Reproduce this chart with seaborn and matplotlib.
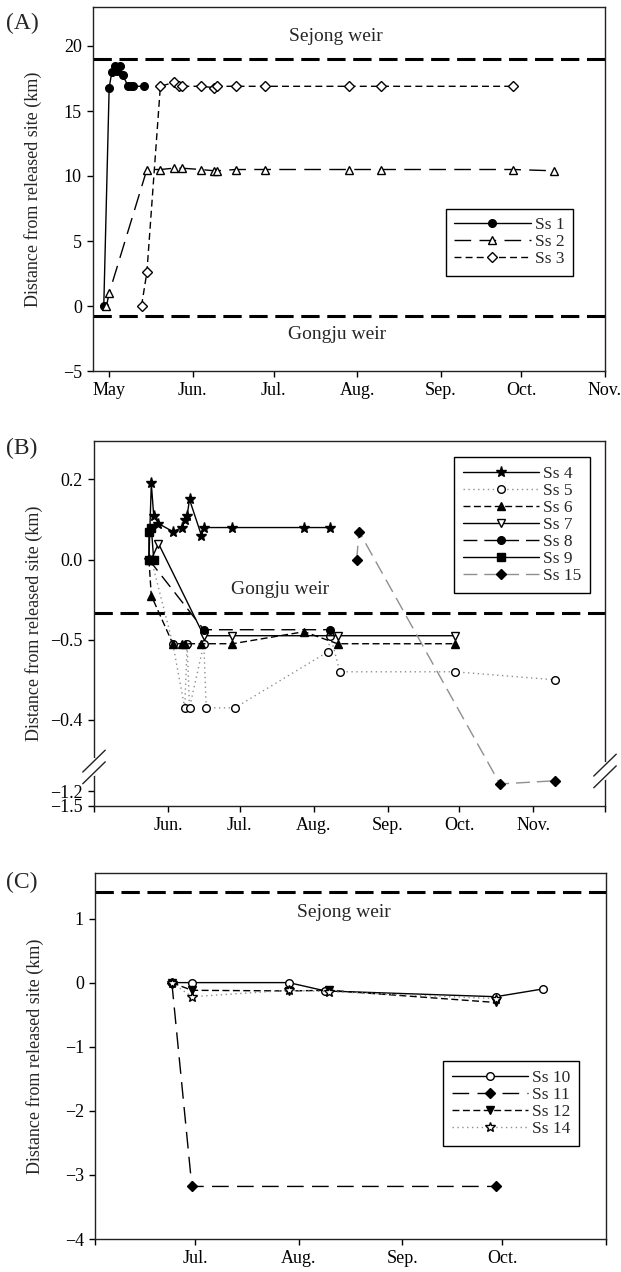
import pandas as pd
import seaborn as sns
import matplotlib.pyplot as plt
import matplotlib.dates as mdates

YEAR = 2013

# ---------------- panel A (km from released site) ----------------
ss1_dates = ["04-29", "05-01", "05-02", "05-03", "05-04", "05-05", "05-06",
             "05-08", "05-09", "05-10", "05-14"]
ss1_km = [0.0, 16.8, 18.0, 18.5, 18.1, 18.5, 17.8, 16.9, 16.9, 16.9, 16.9]

ss2_dates = ["04-30", "05-01", "05-15", "05-20", "05-25", "05-28", "06-04",
             "06-09", "06-10", "06-17", "06-28", "07-29", "08-10", "09-28", "10-13"]
ss2_km = [0.0, 1.0, 10.5, 10.5, 10.6, 10.6, 10.5, 10.4, 10.4, 10.5, 10.5,
          10.5, 10.5, 10.5, 10.4]

ss3_dates = ["05-13", "05-15", "05-20", "05-25", "05-27", "05-28", "06-04",
             "06-09", "06-10", "06-17", "06-28", "07-29", "08-10", "09-28"]
ss3_km = [0.0, 2.6, 16.9, 17.2, 16.9, 16.9, 16.9, 16.8, 16.9, 16.9, 16.9,
          16.9, 16.9, 16.9]

sejong_a = 19.0
gongju_a = -0.8

# ---------------- panel B (position on the broken axis) ----------------
ss4_dates = ["05-24", "05-25", "05-26", "05-28", "06-03", "06-07", "06-08",
             "06-09", "06-10", "06-15", "06-16", "06-28", "07-28", "08-08"]
ss4_pos = [0.0, 0.19, 0.11, 0.09, 0.07, 0.08, 0.10, 0.11, 0.15, 0.06, 0.08,
           0.08, 0.08, 0.08]

ss5_dates = ["05-25", "06-03", "06-08", "06-09", "06-10", "06-16", "06-17",
             "06-29", "08-07", "08-08", "08-12", "09-29", "11-10"]
ss5_pos = [0.0, -0.21, -0.37, -0.21, -0.37, -0.21, -0.37, -0.37, -0.23,
           -0.19, -0.28, -0.28, -0.30]

ss6_dates = ["05-24", "05-25", "06-03", "06-07", "06-08", "06-15", "06-28",
             "07-28", "08-11", "09-29"]
ss6_pos = [0.0, -0.09, -0.21, -0.21, -0.21, -0.21, -0.21, -0.18, -0.21, -0.21]

ss7_dates = ["05-25", "05-28", "06-16", "06-28", "08-11", "09-29"]
ss7_pos = [0.0, 0.04, -0.19, -0.19, -0.19, -0.19]

ss8_dates = ["05-24", "06-16", "08-08"]
ss8_pos = [0.0, -0.175, -0.175]

ss9_dates = ["05-24", "05-24", "05-25", "05-26"]
ss9_pos = [0.0, 0.07, 0.08, 0.0]

ss15_dates = ["08-19", "08-20", "10-18", "11-10"]
ss15_pos = [0.0, 0.07, -0.56, -0.552]

gongju_b = -0.1325
b_tick_pos = [0.2, 0.0, -0.2, -0.4, -0.578, -0.615]
b_tick_labels = ["0.2", "0.0", "\u22120.5", "\u22120.4", "\u22121.2", "\u22121.5"]

# ---------------- panel C (km) ----------------
ss10_dates = ["06-24", "06-30", "07-29", "08-09", "09-29", "10-13"]
ss10_km = [0.0, 0.0, 0.0, -0.13, -0.22, -0.10]

ss11_dates = ["06-24", "06-30", "09-29"]
ss11_km = [0.0, -3.18, -3.18]

ss12_dates = ["06-24", "06-30", "07-29", "08-10", "09-29"]
ss12_km = [0.0, -0.12, -0.13, -0.12, -0.31]

ss14_dates = ["06-24", "06-30", "07-29", "08-10", "09-29"]
ss14_km = [0.0, -0.22, -0.12, -0.14, -0.25]

sejong_c = 1.41

GRAY = "#8f8f8f"


def to_dates(days):
    return pd.to_datetime([f"{YEAR}-{d}" for d in days])


def draw_series(ax, dates, values, label, marker, face, dashes, color="black", ms=5.5):
    df = pd.DataFrame({"date": to_dates(dates), "val": values})
    ls = "-" if dashes is None else (0, dashes)
    sns.lineplot(data=df, x="date", y="val", ax=ax, estimator=None, sort=False,
                 color=color, linestyle=ls, linewidth=1.0, marker=marker,
                 markersize=ms, markerfacecolor=face, markeredgecolor="black",
                 markeredgewidth=1.0, label=label)


def month_axis(ax, start, end, ticks, labels):
    ax.set_xlim(pd.Timestamp(f"{YEAR}-{start}"), pd.Timestamp(f"{YEAR}-{end}"))
    ax.set_xticks(mdates.date2num(to_dates(ticks)))
    ax.set_xticklabels(labels)
    ax.set_xlabel("")


def style_axes(ax):
    for sp in ax.spines.values():
        sp.set_visible(True)
        sp.set_linewidth(1.0)
        sp.set_color("#222222")
    ax.tick_params(direction="out", length=4, width=1.0, labelsize=13,
                   colors="black", pad=4)
    ax.set_ylabel("Distance from released site (km)", fontsize=13)
    ax.yaxis.set_label_coords(-0.10, 0.5)


def draw_legend(ax, anchor):
    leg = ax.legend(loc="upper right", bbox_to_anchor=anchor, fontsize=12.5,
                    handlelength=4.4, handletextpad=0.25, labelspacing=0.05,
                    borderpad=0.5, fancybox=False, framealpha=1.0,
                    edgecolor="black")
    leg.get_frame().set_linewidth(1.0)


sns.set_theme(style="ticks")
plt.rcParams["font.family"] = ["Liberation Serif", "DejaVu Serif"]

fig = plt.figure(figsize=(6.21, 12.72), dpi=100)
ax_a = fig.add_axes([93 / 621, 1 - 371 / 1272, 512 / 621, 364 / 1272])
ax_b = fig.add_axes([94 / 621, 1 - 806 / 1272, 511 / 621, 365 / 1272])
ax_c = fig.add_axes([95 / 621, 1 - 1239 / 1272, 511 / 621, 366 / 1272])

# ---- A ----
draw_series(ax_a, ss1_dates, ss1_km, "Ss 1", "o", "black", None)
draw_series(ax_a, ss2_dates, ss2_km, "Ss 2", "^", "white", (12, 6))
draw_series(ax_a, ss3_dates, ss3_km, "Ss 3", "D", "white", (5, 3), ms=5)
ax_a.axhline(sejong_a, color="black", lw=2.2, dashes=(6, 2.5))
ax_a.axhline(gongju_a, color="black", lw=2.2, dashes=(6, 2.5))
ax_a.text(0.475, 0.918, "Sejong weir", transform=ax_a.transAxes,
          ha="center", va="center", fontsize=14)
ax_a.text(0.477, 0.101, "Gongju weir", transform=ax_a.transAxes,
          ha="center", va="center", fontsize=14)
ax_a.set_ylim(-5, 23)
ax_a.set_yticks([-5, 0, 5, 10, 15, 20])
month_axis(ax_a, "04-25", "11-01",
           ["05-01", "06-01", "07-01", "08-01", "09-01", "10-01", "11-01"],
           ["May", "Jun.", "Jul.", "Aug.", "Sep.", "Oct.", "Nov."])
style_axes(ax_a)
draw_legend(ax_a, (0.955, 0.47))

# ---- B ----
draw_series(ax_b, ss4_dates, ss4_pos, "Ss 4", "*", "black", None, ms=8)
draw_series(ax_b, ss5_dates, ss5_pos, "Ss 5", "o", "white", (1, 2.5), color=GRAY)
draw_series(ax_b, ss6_dates, ss6_pos, "Ss 6", "^", "black", (5, 2.5))
draw_series(ax_b, ss7_dates, ss7_pos, "Ss 7", "v", "white", None)
draw_series(ax_b, ss8_dates, ss8_pos, "Ss 8", "o", "black", (10, 5))
draw_series(ax_b, ss9_dates, ss9_pos, "Ss 9", "s", "black", None)
draw_series(ax_b, ss15_dates, ss15_pos, "Ss 15", "D", "black", (10, 5), color=GRAY)
ax_b.axhline(gongju_b, color="black", lw=2.2, dashes=(6, 2.5))
ax_b.text(0.364, 0.593, "Gongju weir", transform=ax_b.transAxes,
          ha="center", va="center", fontsize=14)
ax_b.set_ylim(-0.615, 0.296)
ax_b.set_yticks(b_tick_pos)
ax_b.set_yticklabels(b_tick_labels)
month_axis(ax_b, "05-01", "12-01",
           ["05-01", "06-01", "07-01", "08-01", "09-01", "10-01", "11-01", "12-01"],
           ["", "Jun.", "Jul.", "Aug.", "Sep.", "Oct.", "Nov.", ""])
style_axes(ax_b)
draw_legend(ax_b, (0.988, 0.98))

# axis-break marks on both sides of panel B
for x0, yc in [(0.0, 0.107), (1.0, 0.096)]:
    ax_b.plot([x0, x0], [yc - 0.02, yc + 0.02], transform=ax_b.transAxes,
              color="white", lw=3, clip_on=False, zorder=5)
    for off in (-0.016, 0.016):
        ax_b.plot([x0 - 0.022, x0 + 0.022], [yc + off - 0.03, yc + off + 0.03],
                  transform=ax_b.transAxes, color="#222222", lw=1.0,
                  clip_on=False, zorder=6)

# ---- C ----
draw_series(ax_c, ss10_dates, ss10_km, "Ss 10", "o", "white", None)
draw_series(ax_c, ss11_dates, ss11_km, "Ss 11", "D", "black", (12, 6), ms=5)
draw_series(ax_c, ss12_dates, ss12_km, "Ss 12", "v", "black", (5, 2.5))
draw_series(ax_c, ss14_dates, ss14_km, "Ss 14", "*", "white", (1, 2.5), color=GRAY, ms=7)
ax_c.axhline(sejong_c, color="black", lw=2.2, dashes=(6, 2.5))
ax_c.text(0.487, 0.891, "Sejong weir", transform=ax_c.transAxes,
          ha="center", va="center", fontsize=14)
ax_c.set_ylim(-4, 1.71)
ax_c.set_yticks([-4, -3, -2, -1, 0, 1])
month_axis(ax_c, "06-01", "11-01",
           ["06-01", "07-01", "08-01", "09-01", "10-01", "11-01"],
           ["", "Jul.", "Aug.", "Sep.", "Oct.", ""])
style_axes(ax_c)
draw_legend(ax_c, (0.965, 0.509))

for label, ypix in [("(A)", 23), ("(B)", 448), ("(C)", 882)]:
    fig.text(6 / 621, 1 - ypix / 1272, label, fontsize=17, ha="left", va="center")

fig.savefig("out.png", dpi=100)
